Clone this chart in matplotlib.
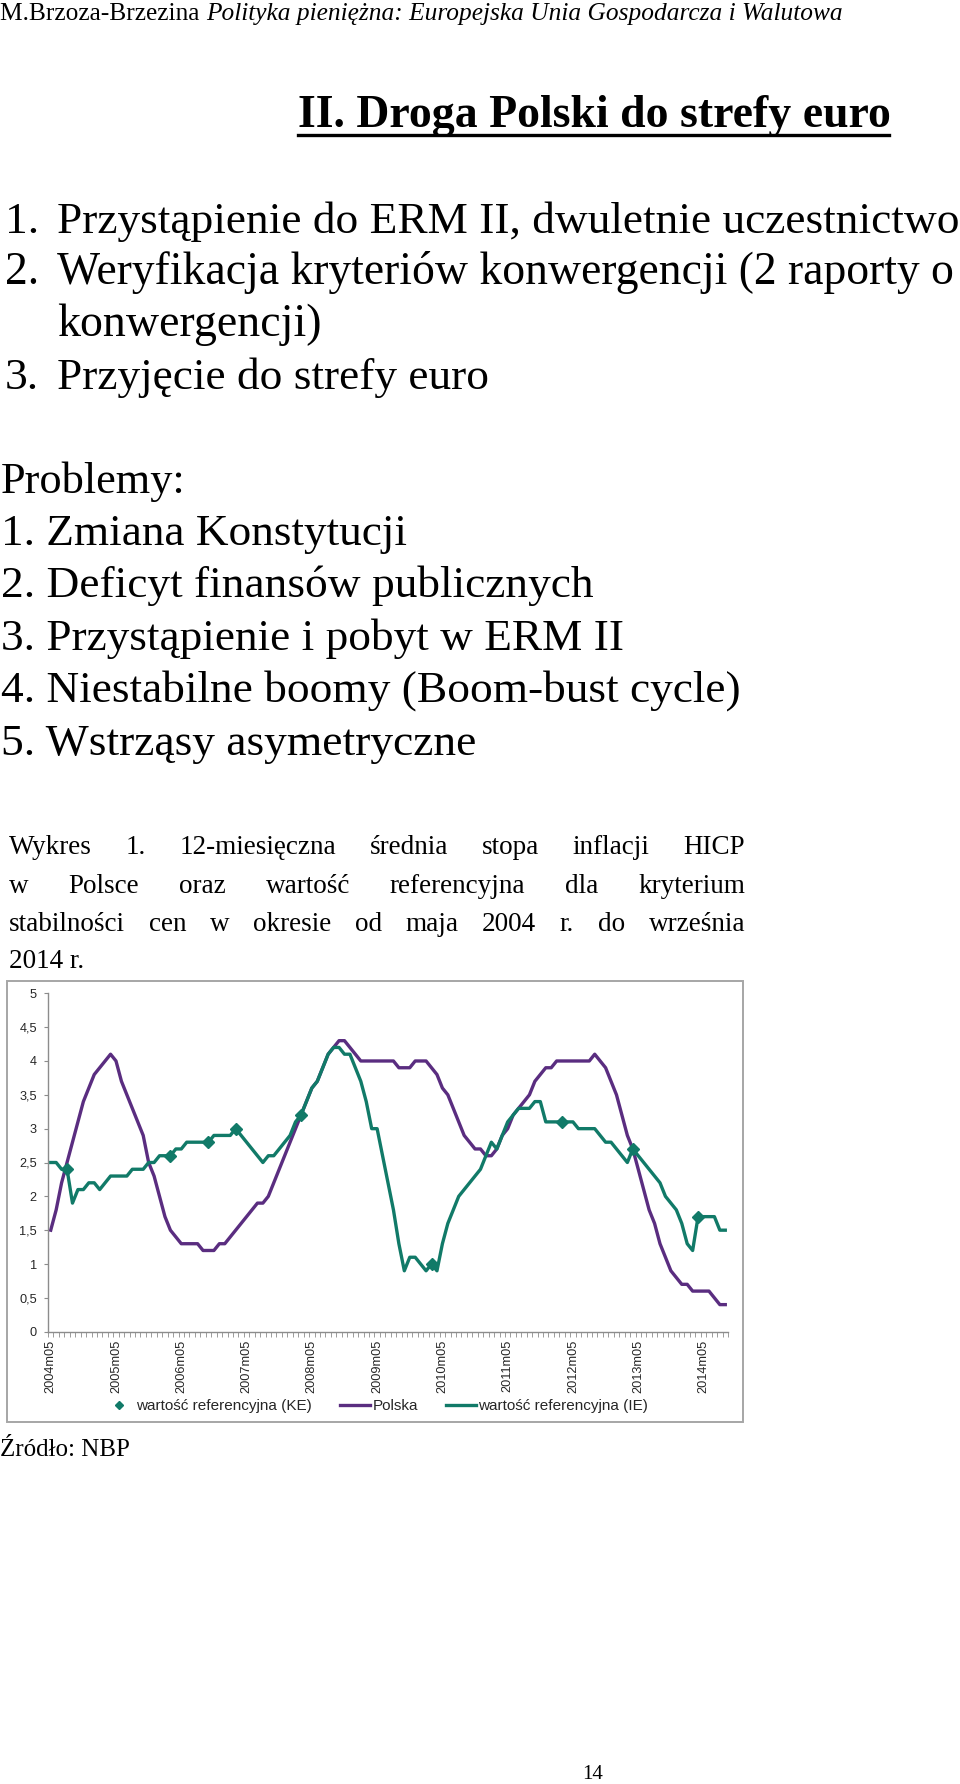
"""Strona 14: Droga Polski do strefy euro + wykres inflacji HICP (NBP)."""
import matplotlib
import numpy as np

matplotlib.use("Agg")
import matplotlib.pyplot as plt  # noqa: E402
from matplotlib.lines import Line2D  # noqa: E402

# --- dane wykresu (miesiące 2004m05 .. 2014m09) ---
months = [f"{2004 + (4 + i) // 12}m{(4 + i) % 12 + 1:02d}" for i in range(125)]
polska = [1.5, 1.8, 2.2, 2.5, 2.8, 3.1, 3.4, 3.6, 3.8, 3.9, 4.0, 4.1,
          4.0, 3.7, 3.5, 3.3, 3.1, 2.9, 2.5, 2.3, 2.0, 1.7, 1.5, 1.4,
          1.3, 1.3, 1.3, 1.3, 1.2, 1.2, 1.2, 1.3, 1.3, 1.4, 1.5, 1.6,
          1.7, 1.8, 1.9, 1.9, 2.0, 2.2, 2.4, 2.6, 2.8, 3.0, 3.2, 3.4,
          3.6, 3.7, 3.9, 4.1, 4.2, 4.3, 4.3, 4.2, 4.1, 4.0, 4.0, 4.0,
          4.0, 4.0, 4.0, 4.0, 3.9, 3.9, 3.9, 4.0, 4.0, 4.0, 3.9, 3.8,
          3.6, 3.5, 3.3, 3.1, 2.9, 2.8, 2.7, 2.7, 2.6, 2.6, 2.7, 2.9,
          3.0, 3.2, 3.3, 3.4, 3.5, 3.7, 3.8, 3.9, 3.9, 4.0, 4.0, 4.0,
          4.0, 4.0, 4.0, 4.0, 4.1, 4.0, 3.9, 3.7, 3.5, 3.2, 2.9, 2.7,
          2.4, 2.1, 1.8, 1.6, 1.3, 1.1, 0.9, 0.8, 0.7, 0.7, 0.6, 0.6,
          0.6, 0.6, 0.5, 0.4, 0.4]
ref_ie = [2.5, 2.5, 2.4, 2.4, 1.9, 2.1, 2.1, 2.2, 2.2, 2.1, 2.2, 2.3,
          2.3, 2.3, 2.3, 2.4, 2.4, 2.4, 2.5, 2.5, 2.6, 2.6, 2.6, 2.7,
          2.7, 2.8, 2.8, 2.8, 2.8, 2.8, 2.9, 2.9, 2.9, 2.9, 3.0, 2.9,
          2.8, 2.7, 2.6, 2.5, 2.6, 2.6, 2.7, 2.8, 2.9, 3.1, 3.2, 3.4,
          3.6, 3.7, 3.9, 4.1, 4.2, 4.2, 4.1, 4.1, 3.9, 3.7, 3.4, 3.0,
          3.0, 2.6, 2.2, 1.8, 1.3, 0.9, 1.1, 1.1, 1.0, 0.9, 1.0, 0.9,
          1.3, 1.6, 1.8, 2.0, 2.1, 2.2, 2.3, 2.4, 2.6, 2.8, 2.7, 2.9,
          3.1, 3.2, 3.3, 3.3, 3.3, 3.4, 3.4, 3.1, 3.1, 3.1, 3.1, 3.1,
          3.1, 3.0, 3.0, 3.0, 3.0, 2.9, 2.8, 2.8, 2.7, 2.6, 2.5, 2.7,
          2.6, 2.5, 2.4, 2.3, 2.2, 2.0, 1.9, 1.8, 1.6, 1.3, 1.2, 1.7,
          1.7, 1.7, 1.7, 1.5, 1.5]
ke_idx = [3, 22, 29, 34, 46, 70, 94, 107, 119]
ke_val = [2.4, 2.6, 2.8, 3.0, 3.2, 1.0, 3.1, 2.7, 1.7]
yticks = [0, 0.5, 1, 1.5, 2, 2.5, 3, 3.5, 4, 4.5, 5]
ytick_labels = ["0", "0,5", "1", "1,5", "2", "2,5", "3", "3,5", "4", "4,5", "5"]

PURPLE = "#5a2d80"
TEAL = "#117a68"
GRAY = "#8c8c8c"

W, H = 960, 1784
fig = plt.figure(figsize=(W / 100, H / 100), dpi=100)
fig.patch.set_facecolor("white")
rend = fig.canvas.get_renderer()


def fx(x):
    return x / W


def fy(y):
    return 1 - y / H


def fit(s, x, y, width, base=20, **kw):
    """tekst od (x, y-linia bazowa) dopasowany do zadanej szerokości w px"""
    t = fig.text(fx(x), fy(y), s, fontsize=base, va="baseline", **kw)
    t.set_fontsize(base * width / t.get_window_extent(rend).width)
    return t


SERIF = "Liberation Serif"

# nagłówek strony
h1 = fig.text(0, fy(20), "M.Brzoza-Brzezina ", family=SERIF, fontsize=14, va="baseline")
w1 = h1.get_window_extent(rend).width
h2 = fig.text(fx(w1), fy(20), "Polityka pieniężna: Europejska Unia Gospodarcza i Walutowa",
              family=SERIF, style="italic", fontsize=14, va="baseline")
k = 842 / (w1 + h2.get_window_extent(rend).width)
h1.set_fontsize(14 * k); h2.set_fontsize(14 * k)
h2.set_x(fx(h1.get_window_extent(rend).width))

# tytuł (podkreślony)
tt = fit("II. Droga Polski do strefy euro", 298, 127, 591, family=SERIF, weight="bold")
fig.add_artist(Line2D([fx(298), fx(889)], [fy(135), fy(135)], color="black", lw=2.4))

# lista kroków
steps = [("1.", "Przystąpienie do ERM II, dwuletnie uczestnictwo", 233, 902),
         ("2.", "Weryfikacja kryteriów konwergencji (2 raporty o", 284, 896),
         ("", "konwergencji)", 336, 264),
         ("3.", "Przyjęcie do strefy euro", 389, 432)]
for num, s, yb, w in steps:
    t = fit(s, 57, yb, w, family=SERIF)
    if num:
        fig.text(fx(5), fy(yb), num, family=SERIF, fontsize=t.get_fontsize(), va="baseline")

problems = [("Problemy:", 493, 185),
            ("1. Zmiana Konstytucji", 545, 406),
            ("2. Deficyt finansów publicznych", 597, 593),
            ("3. Przystąpienie i pobyt w ERM II", 650, 623),
            ("4. Niestabilne boomy (Boom-bust cycle)", 702, 739),
            ("5. Wstrząsy asymetryczne", 755, 475)]
for s, yb, w in problems:
    fit(s, 1, yb, w, family=SERIF)

# podpis wykresu, wyjustowany
caption = ["Wykres 1. 12-miesięczna średnia stopa inflacji HICP",
           "w Polsce oraz wartość referencyjna dla kryterium",
           "stabilności cen w okresie od maja 2004 r. do września",
           "2014 r."]
cap_y = [854, 893, 931, 968]
CAP_FS = 19.5
for j, (line, yb) in enumerate(zip(caption, cap_y)):
    words = line.split()
    if j == len(caption) - 1:
        fig.text(fx(9), fy(yb), line, family=SERIF, fontsize=CAP_FS, va="baseline")
        continue
    arts = [fig.text(0, fy(yb), wd, family=SERIF, fontsize=CAP_FS, va="baseline") for wd in words]
    ws = [a.get_window_extent(rend).width for a in arts]
    gap = (745 - 9 - sum(ws)) / (len(words) - 1)
    x = 9
    for a, wd in zip(arts, ws):
        a.set_x(fx(x))
        x += wd + gap

# ramka wykresu
fig.add_artist(plt.Rectangle((fx(7), fy(1422)), fx(743) - fx(7), fy(981) - fy(1422),
                             fill=False, ec="#a6a6a6", lw=1.4))

ax = fig.add_axes([fx(48), fy(1331.7), fx(728) - fx(48), fy(993.3) - fy(1331.7)])
x = np.arange(len(months))
ax.plot(x, polska, color=PURPLE, lw=2.4, label="Polska", solid_joinstyle="round")
ax.plot(x, ref_ie, color=TEAL, lw=2.4, label="wartość referencyjna (IE)", solid_joinstyle="round")
ax.plot(ke_idx, ke_val, "D", color=TEAL, ms=6.5, ls="none", label="wartość referencyjna (KE)")

ax.set_xlim(-0.5, len(months) - 0.5)
ax.set_ylim(0, 5)
ax.set_yticks(yticks)
ax.set_yticklabels(ytick_labels)
ax.set_xticks(x[::12])
ax.set_xticklabels(months[::12], rotation=90)
ax.set_xticks(np.arange(-0.5, len(months)), minor=True)
for sp in ("top", "right"):
    ax.spines[sp].set_visible(False)
for sp in ("left", "bottom"):
    ax.spines[sp].set_color(GRAY)
    ax.spines[sp].set_linewidth(1.0)
ax.tick_params(axis="both", which="both", color=GRAY, direction="out")
ax.tick_params(axis="x", which="major", length=0, pad=6)
ax.tick_params(axis="x", which="minor", length=3.5)
ax.tick_params(axis="y", length=3, pad=5)
for lab in ax.get_xticklabels():
    lab.set_family("Liberation Sans")
    lab.set_fontsize(9.2)
    lab.set_color("#262626")
for lab in ax.get_yticklabels():
    lab.set_family("Liberation Sans")
    lab.set_fontsize(9.2)
    lab.set_color("#262626")

hs = ax.get_legend_handles_labels()[0]
fig.legend([hs[2], hs[0], hs[1]], ["wartość referencyjna (KE)", "Polska", "wartość referencyjna (IE)"],
           loc="center", bbox_to_anchor=(fx(376), fy(1406)), ncol=3, frameon=False,
           prop={"family": "Liberation Sans", "size": 11}, labelcolor="#262626",
           handlelength=2.0, handletextpad=0.15, columnspacing=1.8, markerscale=0.6)

fig.text(0, fy(1456), "Źródło: NBP", family=SERIF, fontsize=18, va="baseline")
fig.text(fx(593), fy(1779), "14", family=SERIF, fontsize=15, va="baseline", ha="center")

fig.savefig("out.png", dpi=100)
